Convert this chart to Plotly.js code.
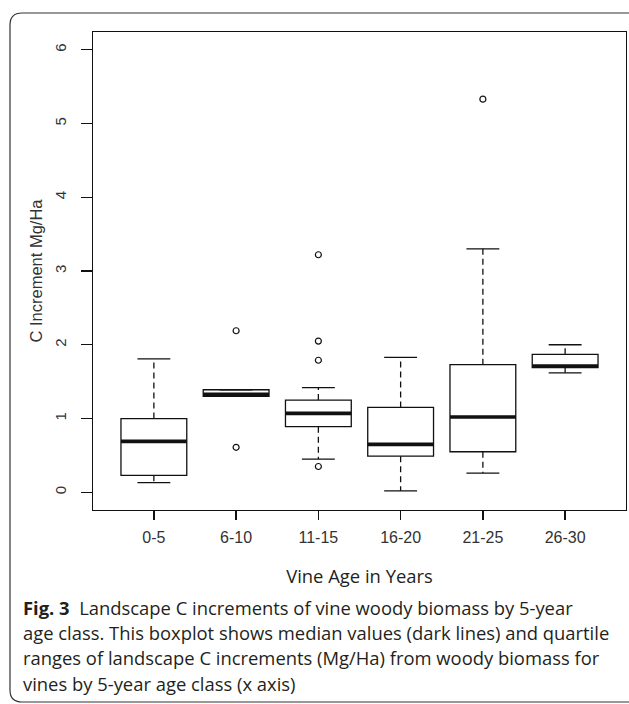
<!DOCTYPE html>
<html>
<head>
<meta charset="utf-8">
<script src="https://cdn.plot.ly/plotly-3.0.1.min.js"></script>
<style>
  html, body { margin: 0; padding: 0; background: #ffffff; }
  #chart { width: 629px; height: 704px; }
</style>
</head>
<body>
<div id="chart"></div>
<script>
// ---- data ----
var categories   = ['0-5', '6-10', '11-15', '16-20', '21-25', '26-30'];
var lowerWhisker = [0.13, 1.30, 0.45, 0.02, 0.26, 1.62];
var q1           = [0.23, 1.30, 0.89, 0.49, 0.55, 1.69];
var median       = [0.69, 1.33, 1.07, 0.65, 1.02, 1.71];
var q3           = [1.00, 1.39, 1.25, 1.15, 1.73, 1.87];
var upperWhisker = [1.81, 1.39, 1.42, 1.83, 3.30, 2.00];
var outlierCat   = ['6-10', '6-10', '11-15', '11-15', '11-15', '11-15', '21-25'];
var outlierVal   = [2.19, 0.61, 3.22, 2.05, 1.79, 0.35, 5.33];

var yTickVals = [0, 1, 2, 3, 4, 5, 6];
var xTitle = 'Vine Age in Years';
var yTitle = 'C Increment Mg/Ha';
var captionLines = [
  '<b>Fig. 3</b>\u00a0\u00a0Landscape C increments of vine woody biomass by 5-year',
  'age class. This boxplot shows median values (dark lines) and quartile',
  'ranges of landscape C increments (Mg/Ha) from woody biomass for',
  'vines by 5-year age class (x axis)'
];

// ---- layout geometry (page pixels) ----
var W = 629, H = 704;
var PL = 93, PR = 626, PT = 32, PB = 510;
function px2x(px) { return (px - PL) / (PR - PL); }
function px2y(py) { return (PB - py) / (PB - PT); }

var INK = '#111111';
var LW = 1.3;
var CAPFONT = { family: 'Open Sans, sans-serif', size: 18.4, color: '#231f20' };

// dashed whiskers
var wx = [], wy = [];
for (var i = 0; i < categories.length; i++) {
  wx.push(categories[i], categories[i], null, categories[i], categories[i], null);
  wy.push(q3[i], upperWhisker[i], null, q1[i], lowerWhisker[i], null);
}

function flatBox(vals, width, lw) {
  return {
    type: 'box', x: categories,
    q1: vals, median: vals, q3: vals, lowerfence: vals, upperfence: vals,
    width: width, whiskerwidth: 0, boxpoints: false,
    line: { color: INK, width: lw }, fillcolor: 'rgba(0,0,0,0)',
    hoverinfo: 'skip', showlegend: false
  };
}

var traces = [
  {
    type: 'scatter', mode: 'lines', x: wx, y: wy,
    line: { color: INK, width: LW, dash: '6px,4px' },
    hoverinfo: 'skip', showlegend: false, connectgaps: false
  },
  {
    type: 'box', x: categories,
    q1: q1, median: median, q3: q3, lowerfence: q1, upperfence: q3,
    width: 0.8, whiskerwidth: 0, boxpoints: false,
    line: { color: INK, width: LW }, fillcolor: '#ffffff',
    hoverinfo: 'skip', showlegend: false
  },
  flatBox(upperWhisker, 0.4, LW),
  flatBox(lowerWhisker, 0.4, LW),
  flatBox(median, 0.8, 3.6),
  {
    type: 'scatter', mode: 'markers', x: outlierCat, y: outlierVal,
    marker: { symbol: 'circle-open', size: 6, color: INK, line: { width: 1.2, color: INK } },
    hoverinfo: 'skip', showlegend: false
  }
];

var annotations = captionLines.map(function (t, k) {
  return {
    text: t, xref: 'paper', yref: 'paper',
    x: px2x(21), y: px2y(607 + k * 25.4),
    xanchor: 'left', yanchor: 'middle', showarrow: false, align: 'left',
    font: CAPFONT
  };
});

var r = 12;
var bx0 = px2x(10), bx1 = px2x(640), by0 = px2y(13), by1 = px2y(702);
var rx = r / (PR - PL), ry = r / (PB - PT);
var borderPath = 'M ' + (bx0 + rx) + ',' + by0 +
  ' L ' + (bx1 - rx) + ',' + by0 +
  ' Q ' + bx1 + ',' + by0 + ' ' + bx1 + ',' + (by0 - ry) +
  ' L ' + bx1 + ',' + (by1 + ry) +
  ' Q ' + bx1 + ',' + by1 + ' ' + (bx1 - rx) + ',' + by1 +
  ' L ' + (bx0 + rx) + ',' + by1 +
  ' Q ' + bx0 + ',' + by1 + ' ' + bx0 + ',' + (by1 + ry) +
  ' L ' + bx0 + ',' + (by0 - ry) +
  ' Q ' + bx0 + ',' + by0 + ' ' + (bx0 + rx) + ',' + by0 + ' Z';

var layout = {
  width: W, height: H,
  margin: { l: PL, r: W - PR, t: PT, b: H - PB, pad: 0 },
  paper_bgcolor: '#ffffff', plot_bgcolor: '#ffffff',
  showlegend: false, boxmode: 'overlay', hovermode: false,
  font: { family: 'Liberation Sans, Arial, sans-serif', color: '#333333' },
  xaxis: {
    type: 'category', categoryorder: 'array', categoryarray: categories,
    range: [-0.74, 5.74],
    showline: true, mirror: true, linecolor: INK, linewidth: LW,
    ticks: 'outside', ticklen: 9, tickwidth: LW, tickcolor: INK,
    showgrid: false, zeroline: false,
    tickfont: { size: 16, color: '#333333', family: 'Liberation Sans, Arial, sans-serif' },
    ticklabelstandoff: 3,
    title: { text: xTitle, standoff: 25, font: CAPFONT },
    automargin: false
  },
  yaxis: {
    range: [-0.24, 6.24], tickmode: 'array', tickvals: yTickVals,
    showline: true, mirror: true, linecolor: INK, linewidth: LW,
    ticks: 'outside', ticklen: 11, tickwidth: LW, tickcolor: INK,
    showgrid: false, zeroline: false, tickangle: -90,
    tickfont: { size: 15, color: '#333333', family: 'Liberation Sans, Arial, sans-serif' },
    ticklabelstandoff: 9,
    title: { text: yTitle, standoff: 5,
             font: { size: 16.5, color: '#333333', family: 'Liberation Sans, Arial, sans-serif' } },
    automargin: false
  },
  annotations: annotations,
  shapes: [{
    type: 'path', xref: 'paper', yref: 'paper', path: borderPath,
    line: { color: '#333333', width: 1.2 }, fillcolor: 'rgba(0,0,0,0)', layer: 'below'
  }]
};

Plotly.newPlot('chart', traces, layout, { staticPlot: true, displayModeBar: false });
</script>
</body>
</html>
